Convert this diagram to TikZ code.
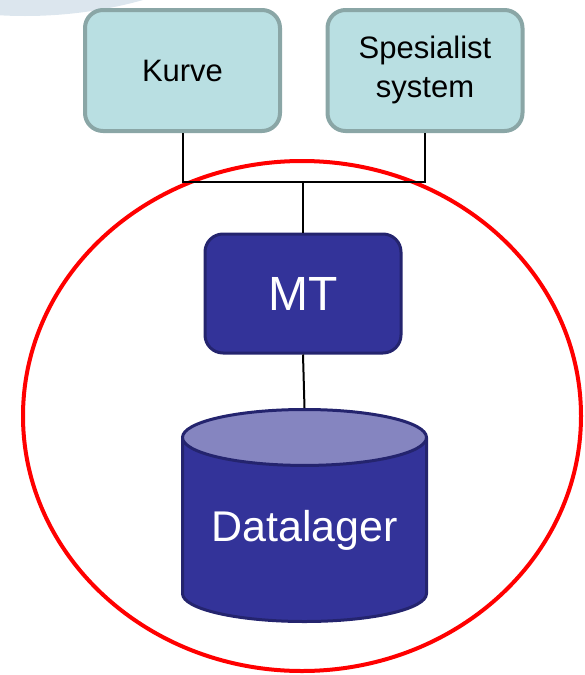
\documentclass[tikz,border=0pt]{standalone}
\usepackage{fontspec}
\setmainfont{Liberation Sans}
\usetikzlibrary{shapes.geometric}

\definecolor{boxfill}{HTML}{B9DFE2}
\definecolor{boxline}{HTML}{8AA6A6}
\definecolor{mtfill}{HTML}{333399}
\definecolor{mtline}{HTML}{24246E}
\definecolor{topfill}{HTML}{8585C0}
\definecolor{decofill}{HTML}{DCE6EE}

\tikzset{
  toolbox/.style={draw=boxline, fill=boxfill, line width=4pt, rounded corners=18pt,
    minimum width=195pt, minimum height=121pt, align=center,
    font=\fontsize{31}{39}\selectfont},
  corebox/.style={draw=mtline, fill=mtfill, line width=3pt, rounded corners=18pt,
    minimum width=196pt, minimum height=119pt, text=white,
    font=\fontsize{48}{54}\selectfont},
  link/.style={line width=2pt}
}

\begin{document}
\begin{tikzpicture}[x=1pt,y=-1pt]
\useasboundingbox (0,0) rectangle (584,675);
% slide decoration, top left
\begin{scope}
  \clip (0,0) rectangle (584,675);
  \fill[decofill] (25,-300) ellipse [x radius=375pt, y radius=316pt];
\end{scope}

\draw[red, line width=4pt] (302,416) ellipse [x radius=279pt, y radius=255pt];

\node[toolbox] (kurve) at (182.5,70.5) {Kurve};
\node[toolbox] (spes)  at (425,70.5)
    {\raisebox{-4pt}{\begin{tabular}{@{}c@{}}Spesialist\\system\end{tabular}}};
\node[corebox] (mt)    at (303,293.5)  {MT};
\node[cylinder, shape border rotate=90, aspect=0.3, draw=mtline, line width=3pt,
      cylinder uses custom fill, cylinder body fill=mtfill, cylinder end fill=topfill,
      minimum width=244pt, minimum height=212pt, inner sep=0pt, text=white,
      font=\fontsize{43}{50}\selectfont, anchor=north] (store) at (304.5,408) {Datalager};

\coordinate (join) at (303,182);
\draw[link] (kurve.south) |- (join);
\draw[link] (spes.south)  |- (join);
\draw[link] (join) -- (mt.north);
\draw[link] (mt.south) -- (store.north);
\end{tikzpicture}
\end{document}
